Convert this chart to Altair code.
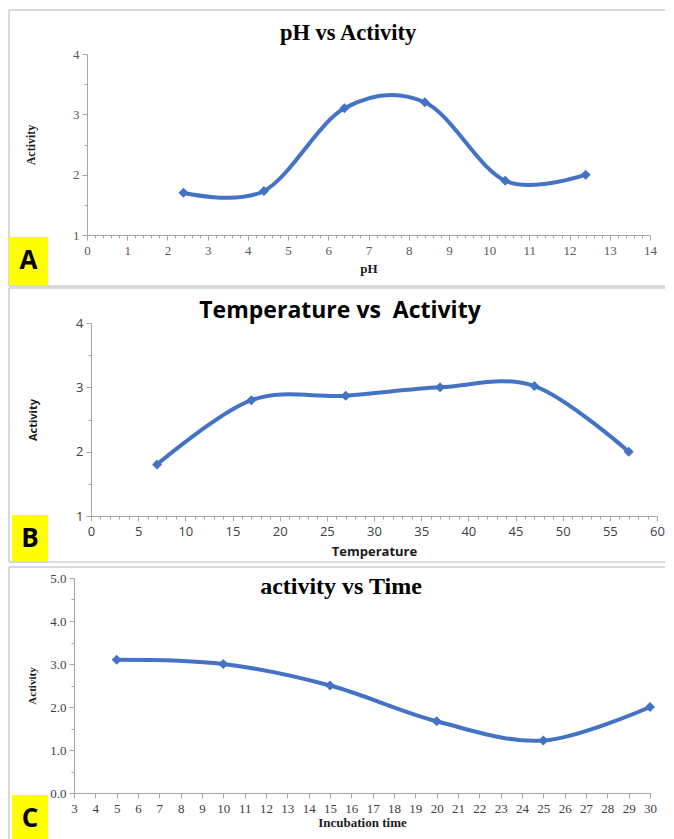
import altair as alt
import pandas as pd

# ---------------- data ----------------
ph = [2.4, 4.4, 6.4, 8.4, 10.4, 12.4]
ph_activity = [1.7, 1.73, 3.1, 3.2, 1.9, 2.0]

temperature = [7, 17, 27, 37, 47, 57]
temp_activity = [1.8, 2.8, 2.87, 3.0, 3.02, 2.0]

inc_time = [5, 10, 15, 20, 25, 30]
time_activity = [3.1, 3.0, 2.5, 1.67, 1.22, 2.0]

ph_major_ticks = list(range(0, 15))
temp_major_ticks = list(range(0, 61, 5))
time_major_ticks = list(range(3, 31))
act_major_ticks_ab = [1, 2, 3, 4]
act_major_ticks_c = [0, 1, 2, 3, 4, 5]

# minor ticks (axis decoration)
ph_ticks = [round(i * 0.2, 1) for i in range(0, 71)]
temp_ticks = list(range(0, 61))
time_ticks = time_major_ticks
act_ticks_ab = [1 + i * 0.5 for i in range(7)]
act_ticks_c = [i * 0.5 for i in range(11)]

BLUE = "#4472C4"
AXIS = "#a6a6a6"
BORDER = "#cccccc"
SERIF = "Liberation Serif"
SANS = "Open Sans"
X0 = 74  # common plot origin (page x)


def panel(df, xcol, ycol, xdom, ydom, ax_left, ax_right, Y0, H,
          xvals, xtest, xfmt, yvals, ytest, yfmt,
          font, lsize, lcolor, xtitle, ytitle, xtsize, ytsize,
          xtitle_y, ytitle_x,
          title, tfont, tfsize, tcx, tcy,
          cell_top, cell_bottom, border_top, border_bottom, bottom_line,
          box_left, box_right, box_top, box_bottom, letter):
    rx = lambda px: px - X0
    ry = lambda py: py - Y0
    r0, r1 = rx(ax_left), rx(ax_right)

    xax = alt.Axis(values=xvals, tickCount=len(xvals) + 1,
                   labelExpr=f"({xtest}) ? format(datum.value, '{xfmt}') : ''",
                   tickSize={"condition": {"test": xtest, "value": 5}, "value": 3},
                   labelOverlap=False, labelFlush=False, grid=False,
                   labelFont=font, labelFontSize=lsize, labelColor=lcolor,
                   labelPadding=4, domainColor=AXIS, tickColor=AXIS,
                   title=xtitle, titleFont=font, titleFontSize=xtsize,
                   titleFontWeight="bold", titleColor="#1a1a1a",
                   titleX=(r0 + r1) / 2, titleY=xtitle_y, titleBaseline="middle",
                   titleAlign="center")
    yax = alt.Axis(values=yvals, tickCount=len(yvals) + 1,
                   labelExpr=f"({ytest}) ? format(datum.value, '{yfmt}') : ''",
                   offset=-r0,
                   tickSize={"condition": {"test": ytest, "value": 5}, "value": 3},
                   labelOverlap=False, labelFlush=False, grid=False,
                   labelFont=font, labelFontSize=lsize, labelColor=lcolor,
                   labelPadding=3, domainColor=AXIS, tickColor=AXIS,
                   title=ytitle, titleFont=font, titleFontSize=ytsize,
                   titleFontWeight="bold", titleColor="#1a1a1a",
                   titleX=ytitle_x, titleBaseline="middle")

    x = alt.X(f"{xcol}:Q", scale=alt.Scale(domain=xdom, nice=False, zero=False, range=[r0, r1]),
              axis=xax)
    y = alt.Y(f"{ycol}:Q", scale=alt.Scale(domain=ydom, nice=False, zero=False), axis=yax)

    base = alt.Chart(df)
    line = base.mark_line(color=BLUE, strokeWidth=4, interpolate="cardinal").encode(x=x, y=y)
    pts = base.mark_point(shape="diamond", filled=True, size=100, color=BLUE, opacity=1).encode(x=x, y=y)

    one = alt.Chart(pd.DataFrame({"k": [0]}))
    cell = one.mark_rect(fill="white", opacity=0).encode(
        x=alt.value(rx(8)), x2=alt.value(rx(664)),
        y=alt.value(ry(cell_top)), y2=alt.value(ry(cell_bottom)))
    top_line = one.mark_rule(color=BORDER, strokeWidth=1.5).encode(
        x=alt.value(rx(9)), x2=alt.value(rx(665)), y=alt.value(ry(border_top)))
    left_line = one.mark_rule(color=BORDER, strokeWidth=1.5).encode(
        x=alt.value(rx(9)), y=alt.value(ry(border_top)), y2=alt.value(ry(border_bottom)))
    layers = [cell, top_line, left_line]
    if bottom_line:
        layers.append(one.mark_rule(color=BORDER, strokeWidth=1.5).encode(
            x=alt.value(rx(9)), x2=alt.value(rx(665)), y=alt.value(ry(border_bottom))))
    box = one.mark_rect(color="#FFFF00").encode(
        x=alt.value(rx(box_left)), x2=alt.value(rx(box_right)),
        y=alt.value(ry(box_top)), y2=alt.value(ry(box_bottom)))
    letter_t = one.mark_text(text=letter, font=SANS, fontSize=26, fontWeight="bold",
                             color="black", align="center", baseline="middle").encode(
        x=alt.value(rx((box_left + box_right) / 2)), y=alt.value(ry(box_top + 24)))
    title_t = one.mark_text(text=title, font=tfont, fontSize=tfsize, fontWeight="bold",
                            color="black", align="center", baseline="middle").encode(
        x=alt.value(rx(tcx)), y=alt.value(ry(tcy)))
    layers += [box, letter_t, title_t, line, pts]
    return alt.layer(*layers).properties(width=r1, height=H)


dfa = pd.DataFrame({"pH": ph, "Activity": ph_activity})
dfb = pd.DataFrame({"Temperature": temperature, "Activity": temp_activity})
dfc = pd.DataFrame({"Time": inc_time, "Activity": time_activity})

pa = panel(dfa, "pH", "Activity", [0, 14], [1, 4], 87, 650, 54, 181,
           ph_ticks, "abs(datum.value - round(datum.value)) < 0.001", ".0f",
           act_ticks_ab, "abs(datum.value - round(datum.value)) < 0.001", ".0f",
           SERIF, 13, "#595959", "pH", "Activity", 13, 12, 33, -57,
           "pH vs Activity", SERIF, 22.5, 348, 33,
           8, 287, 10, 286, True, 9, 48, 237, 285, "A")

pb = panel(dfb, "Temperature", "Activity", [0, 60], [1, 4], 91, 657, 323, 193,
           temp_ticks, "datum.value % 5 === 0", ".0f",
           act_ticks_ab, "abs(datum.value - round(datum.value)) < 0.001", ".0f",
           SANS, 13, "#404040", "Temperature", "Activity", 13, 11, 35, -58,
           "Temperature vs\u00a0\u00a0Activity", SANS, 23, 340, 311,
           287, 565, 288, 562, True, 12, 48, 515, 561, "B")

pc = panel(dfc, "Time", "Activity", [3, 30], [0, 5], 74, 650, 578, 215,
           time_ticks, "datum.value % 1 === 0", ".0f",
           act_ticks_c, "abs(datum.value - round(datum.value)) < 0.001", ".1f",
           SERIF, 13, "#404040", "Incubation time", "Activity", 13, 11, 29, -42,
           "activity vs Time", SERIF, 24, 341, 587,
           565, 850, 567, 850, False, 12, 48, 795, 850, "C")

chart = alt.concat(pa, pb, pc, columns=1, spacing=0, align="none", bounds="full").properties(
    padding={"left": 0, "top": 0, "right": 0, "bottom": 0}
).configure_view(stroke=None)

chart.save("out.html", embed_options={"renderer": "svg", "actions": False})
